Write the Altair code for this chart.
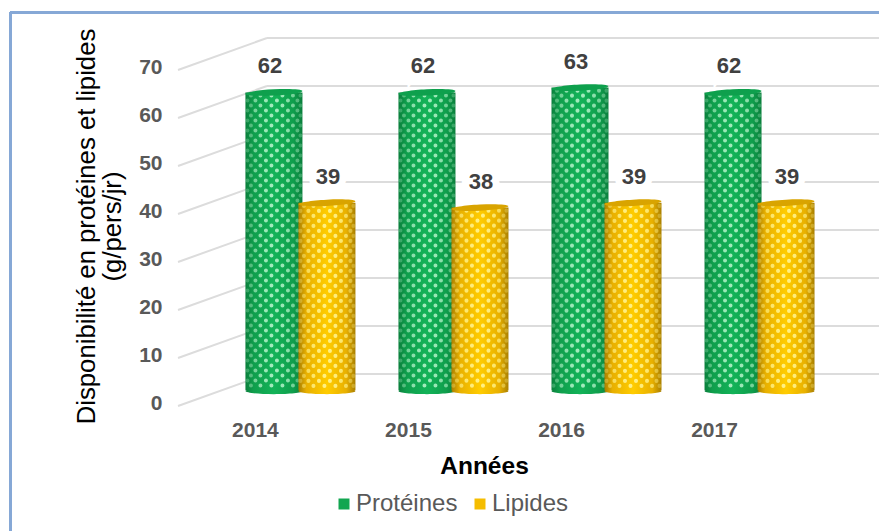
import altair as alt
import pandas as pd

years = [2014, 2015, 2016, 2017]
proteines = [62, 62, 63, 62]
lipides = [39, 38, 39, 39]
y_ticks = [0, 10, 20, 30, 40, 50, 60, 70]
series_names = ["Protéines", "Lipides"]
series_colors = ["#12a650", "#f5bd00"]

records = pd.DataFrame(
    [{"Année": y, "Série": "Protéines", "Valeur": v} for y, v in zip(years, proteines)]
    + [{"Année": y, "Série": "Lipides", "Valeur": v} for y, v in zip(years, lipides)]
)
ticks = pd.DataFrame({"Graduation": y_ticks})

x_scale = alt.Scale(domain=[2012.04, 2017.784], range=[0, 879], nice=False, zero=False, padding=0)
y_scale = alt.Scale(domain=[-29.375, 81.25], range=[531, 0], nice=False, zero=False, padding=0)

X = alt.X("Année:Q", scale=x_scale, axis=None)
Y = alt.Y("Valeur:Q", scale=y_scale, axis=None)

BAR_WIDTH = 57
ELLIPSE = "M-1,0 A1,0.11 0 1,1 1,0 A1,0.11 0 1,1 -1,0 Z"


def shade(edge, mid, glow):
    return alt.Gradient(
        gradient="linear", x1=0, x2=1, y1=0, y2=0,
        stops=[
            alt.GradientStop(color=edge, offset=0),
            alt.GradientStop(color=mid, offset=0.14),
            alt.GradientStop(color=glow, offset=0.5),
            alt.GradientStop(color=mid, offset=0.84),
            alt.GradientStop(color=edge, offset=1),
        ],
    )


def cylinder(name, shift, edge, mid, glow, dot, cap):
    rows = records[records["Série"] == name]
    base = alt.Chart(rows)
    layers = [
        base.mark_point(shape=ELLIPSE, size=BAR_WIDTH**2, filled=True, opacity=1,
                        fill=shade(edge, mid, glow), xOffset=shift, yOffset=1)
        .encode(x=X, y=alt.Y("base:Q", scale=y_scale, axis=None))
        .transform_calculate(base="0"),
        base.mark_bar(size=BAR_WIDTH, xOffset=shift, fill=shade(edge, mid, glow))
        .encode(x=X, y=Y, y2=alt.datum(0)),
    ]
    # Texture of the cylinder wall: staggered columns of round dots, tighter at the rims
    for i, (dx, strength) in enumerate([
        (-26.5, 0.3), (-23, 0.45), (-18.5, 0.65), (-13.5, 0.8), (-8, 0.9), (-2.5, 0.95),
        (3, 0.95), (8.5, 0.9), (14, 0.8), (19, 0.65), (23.5, 0.45), (26.5, 0.3),
    ]):
        layers.append(
            base.mark_rule(stroke=dot, strokeWidth=4, strokeCap="round",
                           strokeDash=[0.1, 9.9], strokeDashOffset=(i % 2) * 5 + 3,
                           opacity=strength, xOffset=shift + dx, yOffset=1)
            .encode(x=X, y=Y, y2=alt.datum(0))
        )
    layers.append(
        base.mark_point(shape=ELLIPSE, size=BAR_WIDTH**2, filled=True, opacity=1,
                        fill=cap, angle=357, xOffset=shift)
        .encode(x=X, y=Y)
    )
    return layers


def value_labels(name, shift):
    rows = records[records["Série"] == name]
    text = alt.Chart(rows).encode(x=X, y=Y, text=alt.Text("Valeur:Q"))
    common = dict(font="Liberation Sans", fontSize=22, fontWeight="bold",
                  xOffset=shift, yOffset=-26)
    return [
        text.mark_text(stroke="white", strokeWidth=14, **common),
        text.mark_text(color="#404040", **common),
    ]


# Blue frame open on the right and at the bottom
frame_left = alt.Chart(ticks).mark_rule(color="#86a8d6", strokeWidth=2.5).encode(
    x=alt.value(10.5), y=alt.value(12), y2=alt.value(531))
frame_top = alt.Chart(ticks).mark_rule(color="#86a8d6", strokeWidth=2.5).encode(
    x=alt.value(10), x2=alt.value(879), y=alt.value(12.5))

# Back wall and side wall of the 3D box
tick_y = alt.Y("Graduation:Q", scale=y_scale, axis=None)
back_wall = alt.Chart(ticks).mark_rule(color="#dcdcdc", strokeWidth=2, yOffset=-16).encode(
    x=alt.value(267), x2=alt.value(879), y=tick_y)
side_wall = alt.Chart(ticks).mark_rule(color="#dcdcdc", strokeWidth=2, yOffset=16, y2Offset=-16).encode(
    x=alt.value(178), x2=alt.value(267), y=tick_y,
    y2=alt.Y2("Graduation:Q"))

# Real axes and legend, carried by tiny points tucked behind the cylinders
axes = alt.Chart(records).mark_point(filled=True, opacity=1, shape="square", size=1).encode(
    x=alt.X("Année:Q", scale=x_scale, axis=alt.Axis(
        orient="bottom", values=years, format="d", offset=-112, domain=False, ticks=False,
        grid=False, labelOffset=-45, labelPadding=0, labelBaseline="top",
        labelFont="Liberation Sans", labelFontSize=21, labelFontWeight="bold",
        labelColor="#595959", labelFlush=False, labelOverlap=False,
        title="Années", titleFont="Liberation Sans", titleFontSize=24.5, titleFontWeight="bold",
        titleColor="#000000", titleX=484, titleY=47, titleAlign="center", titleBaseline="middle")),
    y=alt.Y("Valeur:Q", scale=y_scale, axis=alt.Axis(
        orient="left", values=y_ticks, offset=-162, domain=False, ticks=False, grid=False,
        labelOffset=13, labelPadding=0, labelFont="Liberation Sans", labelFontSize=21,
        labelFontWeight="bold", labelColor="#595959", labelOverlap=False,
        title=["Disponibilité en protéines et lipides", "(g/pers/jr)"],
        titleFont="Liberation Sans", titleFontSize=25.7, titleFontWeight="normal",
        titleColor="#000000", titleAngle=270, titleX=-76, titleY=226,
        titleAlign="center", titleBaseline="middle", titleLineHeight=26)),
    color=alt.Color("Série:N",
        scale=alt.Scale(domain=series_names, range=series_colors),
        legend=alt.Legend(
            orient="none", legendX=332, legendY=492, direction="horizontal", title=None,
            symbolType="square", symbolSize=121, symbolOpacity=1, symbolStrokeWidth=0,
            labelFont="Liberation Sans", labelFontSize=24, labelColor="#595959",
            columnPadding=10, labelOffset=0, padding=0)),
)

layers = [frame_left, frame_top, back_wall, side_wall]
layers += value_labels("Protéines", -30) + value_labels("Lipides", 28)
layers += [axes]
layers += cylinder("Protéines", -26, "#0a7f3c", "#0f9e4c", "#13b358", "#aaeec2", "#0ea04d")
layers += cylinder("Lipides", 27, "#a97f00", "#e8b000", "#ffcc00", "#fff28a", "#d9a400")

chart = alt.layer(*layers).properties(
    width=879, height=531, padding=0, autosize=alt.AutoSizeParams(type="none"),
    background="white",
).configure_view(stroke=None).resolve_axis(x="independent", y="independent")

chart.save("out.html", embed_options={"renderer": "svg", "actions": False})
